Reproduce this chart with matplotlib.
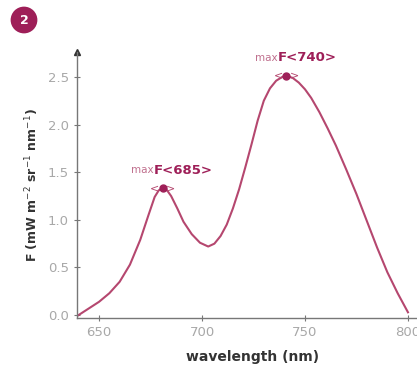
import matplotlib.pyplot as plt

# emission spectrum
wavelength = [640, 645, 650, 655, 660, 665, 670, 674, 677, 679, 681, 683, 685, 688, 691, 695,
              699, 703, 706, 709, 712, 715, 718, 721, 724, 727, 730, 733, 736, 739, 741, 744,
              747, 750, 753, 757, 761, 765, 770, 775, 780, 785, 790, 795, 800]
flux = [0.0, 0.07, 0.14, 0.23, 0.35, 0.53, 0.79, 1.05, 1.24, 1.31, 1.33, 1.31, 1.25, 1.12, 0.98, 0.85,
        0.76, 0.72, 0.75, 0.83, 0.95, 1.12, 1.32, 1.55, 1.79, 2.04, 2.25, 2.38, 2.46, 2.50, 2.51, 2.49,
        2.44, 2.37, 2.28, 2.13, 1.96, 1.78, 1.53, 1.27, 0.99, 0.71, 0.45, 0.23, 0.03]
peak_x = [681, 741]
peak_y = [1.33, 2.51]
peak_labels = ["F<685>", "F<740>"]

line_col = "#b5476f"
dark_col = "#9e1f58"
axis_col = "#777777"

fig = plt.figure(figsize=(4.17, 3.75), dpi=100)
ax = fig.add_axes([0.1847, 0.152, 0.843, 0.709])

ax.plot(wavelength, flux, color=line_col, lw=1.5, solid_joinstyle="round")
ax.plot(peak_x, peak_y, "o", color=dark_col, ms=5)
for x, y, lab in zip(peak_x, peak_y, peak_labels):
    ax.annotate("<", (x, y), xytext=(-8, 0), textcoords="offset pixels", ha="center", va="center",
                color=line_col, fontsize=8)
    ax.annotate(">", (x, y), xytext=(8, 0), textcoords="offset pixels", ha="center", va="center",
                color=line_col, fontsize=8)
    ax.annotate("max", (x, y), xytext=(-9, 18), textcoords="offset pixels", ha="right", va="center",
                color="#c0708e", fontsize=7.5)
    ax.annotate(lab, (x, y), xytext=(-9, 18), textcoords="offset pixels", ha="left", va="center",
                color=dark_col, fontsize=9.5, fontweight="bold")

ax.set_xlim(639.3, 810)
ax.set_ylim(-0.03, 2.76)
ax.set_xticks([650, 700, 750, 800])
ax.set_yticks([0.0, 0.5, 1.0, 1.5, 2.0, 2.5])
ax.set_yticklabels(["0.0", "0.5", "1.0", "1.5", "2.0", "2.5"])

for s in ["top", "right"]:
    ax.spines[s].set_visible(False)
for s in ["left", "bottom"]:
    ax.spines[s].set_color(axis_col)
    ax.spines[s].set_linewidth(1.0)
ax.plot(0, 1, "^", color="#333333", ms=4, transform=ax.transAxes, clip_on=False)
ax.tick_params(direction="inout", length=5, color=axis_col, labelcolor="#a8a8a8", labelsize=9.5)

ax.set_xlabel("wavelength (nm)", fontweight="bold", color="#333333", fontsize=10, labelpad=8)
ax.set_ylabel("F (mW m$^{-2}$ sr$^{-1}$ nm$^{-1}$)", fontweight="bold", color="#333333", fontsize=9,
              labelpad=5)

fig.text(24 / 417, 1 - 20 / 375, "2", ha="center", va="center", color="white", fontsize=9,
         fontweight="bold", bbox=dict(boxstyle="circle,pad=0.55", fc=dark_col, ec="none"))

fig.savefig("out.png", dpi=100)
